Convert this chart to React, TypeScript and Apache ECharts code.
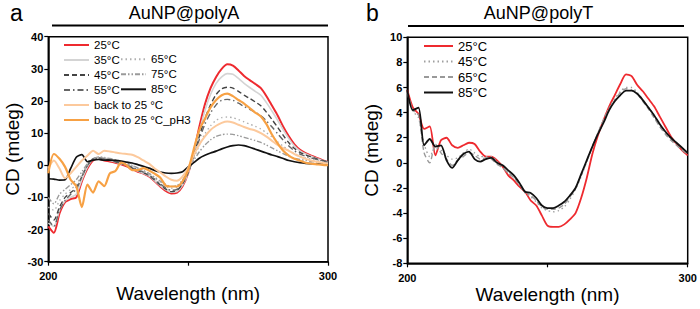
import React, { useEffect, useRef } from 'react';
import * as echarts from 'echarts';

const WAVELENGTH = [200, 202, 204, 206, 208, 210, 212, 214, 216, 218, 220, 222, 224, 226, 228, 230, 232, 234, 236, 238, 240, 242, 244, 246, 248, 250, 252, 254, 256, 258, 260, 262, 264, 266, 268, 270, 272, 274, 276, 278, 280, 282, 284, 286, 288, 290, 292, 294, 296, 298, 300];

// Panel a: AuNP@polyA
const A_25 = [-19, -21, -15, -11.5, -10.5, -10, -5, -1, 1.5, 2, 1.5, 1.2, 0.8, 0.3, -0.3, -1.2, -2, -2.6, -3.5, -5, -6.6, -8, -8.8, -8.5, -6.5, -2.5, 4, 12, 19, 24, 27.5, 30, 31.4, 31, 29.5, 27.8, 26.5, 25.3, 24, 21.5, 18.5, 15.5, 12, 9, 6.5, 4.8, 3.8, 3, 2.3, 1.6, 1.0];
const A_35 = [-18, -19, -14, -11, -10, -9, -4.5, -0.5, 1.8, 2.2, 1.8, 1.5, 1, 0.5, 0, -1, -1.8, -2.5, -3.3, -4.8, -6.3, -7.6, -8.4, -8.2, -6.2, -2.5, 3.5, 10.5, 17, 22, 25.5, 27.5, 28.5, 28.3, 27, 25.5, 24.2, 23, 21.8, 19.5, 16.8, 14, 11, 8.3, 6, 4.5, 3.5, 2.8, 2.1, 1.5, 1.0];
const A_45 = [-15, -17, -13, -10, -8.5, -7, -3.5, 0, 2, 2.3, 2, 1.6, 1.1, 0.6, 0, -0.8, -1.6, -2.3, -3.2, -4.6, -6.1, -7.4, -8.2, -7.8, -5.8, -2.3, 3, 9, 14.5, 18.8, 22, 23.8, 24.3, 24, 23, 21.8, 20.8, 19.7, 18.5, 16.5, 14.2, 11.8, 9.3, 7, 5.2, 4, 3.2, 2.6, 2, 1.5, 1.0];
const A_55 = [-17, -19, -14, -11, -9, -7.5, -3.5, 0, 1.8, 2.2, 2, 1.7, 1.2, 0.7, 0.1, -0.6, -1.4, -2.1, -3, -4.3, -5.8, -7, -7.8, -7.5, -5.5, -2, 2.8, 8, 12.8, 16.3, 18.8, 20.2, 20.5, 20.2, 19.3, 18.3, 17.4, 16.5, 15.4, 13.8, 11.9, 9.8, 7.8, 6, 4.5, 3.5, 2.8, 2.3, 1.8, 1.4, 1.0];
const A_65 = [-13, -14, -11, -9, -7.5, -6, -3, 0, 1.8, 2.5, 2.3, 2, 1.6, 1.1, 0.5, -0.2, -1, -1.8, -2.7, -4, -5.3, -6.5, -7.2, -6.9, -5, -1.8, 2.2, 6.2, 9.8, 12.3, 14, 14.8, 15, 14.8, 14.2, 13.5, 12.8, 12.1, 11.3, 10.1, 8.8, 7.3, 5.9, 4.6, 3.6, 2.8, 2.3, 1.9, 1.5, 1.2, 0.9];
const A_75 = [-10, -12, -9, -7.5, -6, -4.5, -2, 0.5, 2, 2.6, 2.4, 2.1, 1.7, 1.2, 0.7, 0, -0.8, -1.6, -2.5, -3.7, -4.9, -6, -6.6, -6.3, -4.6, -1.6, 1.5, 4.2, 6.3, 7.9, 9, 9.5, 9.7, 9.6, 9.2, 8.7, 8.2, 7.7, 7.1, 6.3, 5.4, 4.5, 3.6, 2.8, 2.2, 1.8, 1.5, 1.2, 1, 0.8, 0.6];
const A_85 = [-4.2, -4.3, -4.6, -4.5, -1, 2.5, 3.3, 1.1, 1.6, 1.8, 1.6, 1.6, 1.5, 1.3, 1, 0.7, 0.2, -0.3, -0.9, -1.6, -2.1, -2.4, -2.5, -2.4, -2, -0.5, 0.8, 2.2, 3.1, 3.8, 4.4, 5.1, 5.7, 6.1, 6.3, 6.1, 5.6, 5, 4.4, 3.8, 3.2, 2.7, 2.1, 1.5, 1.1, 0.8, 0.6, 0.5, 0.4, 0.4, 0.3];
const A_BACK = [-1, 1.5, -1, -4, -2.5, -0.5, 1.5, 3, 4.5, 3.5, 4.5, 4.3, 4, 3.7, 3.5, 3.3, 2.5, 1.5, 0.5, -1, -2.2, -3.5, -4.5, -4.8, -3.5, -0.8, 3.2, 6.5, 9, 11, 12.3, 13.2, 13.6, 13.3, 12.6, 11.9, 11.3, 10.8, 10, 8.9, 7.6, 6.3, 5.3, 4.5, 3.5, 2.7, 2, 1.5, 1.1, 0.8, 0.5];
const A_PH3 = [-2.5, 3.5, 2, -0.5, -4.5, -6.5, -13, -6, -8.5, -5, -6.5, -2.5, -1.8, 0.8, 0, -1.5, -1.5, -0.9, -1.6, -2.6, -3.8, -6.3, -6.6, -6.6, -5, -1.5, 5, 11, 14.5, 18, 20.3, 21.8, 22.3, 21.5, 20.3, 19.2, 17.8, 16.4, 15.2, 12.8, 9.5, 6.8, 4.5, 3, 2, 1.4, 0.8, 0.5, 0.3, 0.1, 0];

// Panel b: AuNP@polyT
const B_25 = [5.8, 4.4, 3.9, 2.7, 2.9, 0.6, 1.8, 2.0, 1.4, 1.2, 1.4, 1.6, 1.5, 0.9, 0.5, 0.5, 0.2, -0.3, -1.0, -1.4, -1.9, -2.3, -3.0, -3.4, -4.2, -5.0, -5.1, -5.1, -4.9, -4.5, -4.0, -2.8, -1.2, 0.7, 2.2, 3.4, 4.5, 5.4, 6.3, 7.05, 6.9, 6.2, 5.7, 5.1, 4.5, 3.7, 2.9, 2.1, 1.5, 1.0, 0.6];
const B_45 = [5.6, 4.1, 3.6, 1.5, 0.5, 1.2, 1.0, 0.6, 0.3, 0.4, 0.8, 1.1, 0.8, 0.5, 0.5, 0.5, 0.1, -0.3, -0.8, -1.2, -1.8, -2.4, -2.7, -3.1, -3.6, -3.8, -3.9, -3.8, -3.5, -2.9, -2.1, -1.1, 0.1, 1.3, 2.4, 3.5, 4.4, 5.1, 5.7, 6.0, 6.0, 5.6, 5.0, 4.4, 3.7, 3.0, 2.4, 1.9, 1.5, 1.1, 0.7];
const B_65 = [5.6, 4.2, 3.8, 0.8, 0.0, 1.5, 0.8, 0.3, -0.2, 0.2, 0.5, 0.8, 0.6, 0.3, 0.4, 0.3, -0.1, -0.4, -0.8, -1.2, -1.7, -2.3, -2.6, -3.0, -3.5, -3.7, -3.7, -3.6, -3.3, -2.7, -2.0, -1.0, 0.1, 1.3, 2.4, 3.4, 4.3, 5.0, 5.6, 5.9, 5.8, 5.5, 4.9, 4.3, 3.6, 2.9, 2.3, 1.8, 1.4, 1.0, 0.7];
const B_85 = [5.8, 4.2, 4.4, 1.4, 1.9, 1.3, 1.4, 0.2, -0.4, 0.2, 0.7, 0.9, 0.3, 0.1, 0.3, 0.4, 0, -0.2, -0.6, -1.0, -1.6, -2.3, -2.4, -2.8, -3.4, -3.6, -3.6, -3.4, -3.1, -2.6, -2.0, -0.9, 0.2, 1.3, 2.3, 3.2, 4.2, 4.9, 5.4, 5.75, 5.75, 5.5, 5.0, 4.4, 3.8, 3.1, 2.5, 2.0, 1.6, 1.2, 0.8];

const FONT = 'Arial, "Liberation Sans", Helvetica, sans-serif';

type SeriesDef = { name: string; values: number[]; color: string; width: number; dash: any };

const A_SERIES: SeriesDef[] = [
  { name: '25°C', values: A_25, color: '#ee2a2f', width: 2, dash: 'solid' },
  { name: '35°C', values: A_35, color: '#d4d4d4', width: 1.6, dash: 'solid' },
  { name: '45°C', values: A_45, color: '#444444', width: 1.4, dash: [5, 3] },
  { name: '55°C', values: A_55, color: '#666666', width: 1.4, dash: [6, 3, 1.5, 3] },
  { name: '65°C', values: A_65, color: '#b0b0b0', width: 1.4, dash: [1.5, 3] },
  { name: '75°C', values: A_75, color: '#9a9a9a', width: 1.4, dash: [5, 2, 1.5, 2, 1.5, 2] },
  { name: '85°C', values: A_85, color: '#111111', width: 1.7, dash: 'solid' },
  { name: 'back to 25 °C', values: A_BACK, color: '#fcc99c', width: 2, dash: 'solid' },
  { name: 'back to 25 °C_pH3', values: A_PH3, color: '#f7a144', width: 2.2, dash: 'solid' },
];

const B_SERIES: SeriesDef[] = [
  { name: '25°C', values: B_25, color: '#ee2a2f', width: 1.8, dash: 'solid' },
  { name: '45°C', values: B_45, color: '#a0a0a0', width: 1.4, dash: [1.5, 3] },
  { name: '65°C', values: B_65, color: '#999999', width: 1.4, dash: [5, 3] },
  { name: '85°C', values: B_85, color: '#111111', width: 1.8, dash: 'solid' },
];

function buildSeries(defs: SeriesDef[]) {
  return defs.map((d) => ({
    name: d.name,
    type: 'line',
    symbol: 'none',
    showSymbol: false,
    smooth: 0.25,
    data: WAVELENGTH.map((w, i) => [w, d.values[i]]),
    lineStyle: { color: d.color, width: d.width, type: d.dash },
    itemStyle: { color: d.color },
    z: 2,
  }));
}

function axisCommon() {
  return {
    axisLine: { show: true, onZero: false, lineStyle: { color: '#000', width: 1.5 } },
    axisTick: { show: true, inside: false, length: 4, lineStyle: { color: '#000', width: 1.2 } },
    splitLine: { show: false },
  };
}

function buildOption(p: {
  letter: string; title: string; series: SeriesDef[]; yMin: number; yMax: number; yInterval: number;
  grid: { left: number; top: number; width: number; height: number };
  legends: any[]; titleX: number; lineX0: number; lineX1: number; lineY: number; letterX: number;
}) {
  return {
    animation: false,
    backgroundColor: '#fff',
    grid: {
      ...p.grid, show: true, borderColor: '#000', borderWidth: 1.5, backgroundColor: 'transparent',
      containLabel: false, outerBoundsMode: 'none',
    },
    xAxis: {
      type: 'value', min: 200, max: 300, interval: 50,
      ...axisCommon(),
      axisLabel: {
        color: '#000', fontFamily: FONT, fontSize: 11, fontWeight: 'bold', margin: 9,
        formatter: (v: number) => (v === 250 ? '' : String(v)),
      },
      name: 'Wavelength (nm)', nameLocation: 'middle', nameGap: 22, nameMoveOverlap: false,
      nameTextStyle: { color: '#000', fontFamily: FONT, fontSize: 19 },
    },
    yAxis: {
      type: 'value', min: p.yMin, max: p.yMax, interval: p.yInterval,
      ...axisCommon(),
      axisLabel: { color: '#000', fontFamily: FONT, fontSize: 11, fontWeight: 'bold', margin: 5 },
      name: 'CD (mdeg)', nameLocation: 'middle', nameGap: 26, nameRotate: 90, nameMoveOverlap: false,
      nameTextStyle: { color: '#000', fontFamily: FONT, fontSize: 19 },
    },
    legend: p.legends,
    series: buildSeries(p.series),
    graphic: [
      { type: 'text', left: p.letterX, top: 1, style: { text: p.letter, fontFamily: FONT, fontSize: 23, fill: '#000' } },
      { type: 'text', x: p.titleX, y: 13, style: { text: p.title, fontFamily: FONT, fontSize: 18, fill: '#000', align: 'center', verticalAlign: 'middle' } },
      { type: 'line', shape: { x1: p.lineX0, y1: p.lineY, x2: p.lineX1, y2: p.lineY }, style: { stroke: '#000', lineWidth: 2 } },
    ],
  };
}

function legendDef(names: string[], left: number, top: number, fontSize: number, gap: number, itemWidth: number) {
  return {
    data: names, left, top, orient: 'vertical', padding: 0, itemGap: gap,
    itemWidth, itemHeight: 8, selectedMode: false,
    itemStyle: { opacity: 0, borderWidth: 0 },
    textStyle: { color: '#000', fontFamily: FONT, fontSize },
  };
}

const optionA = buildOption({
  letter: 'a', title: 'AuNP@polyA', series: A_SERIES, yMin: -30, yMax: 40, yInterval: 10,
  grid: { left: 48.3, top: 36.7, width: 279.7, height: 225 },
  legends: [
    legendDef(['25°C', '35°C', '45°C', '55°C', 'back to 25 °C', 'back to 25 °C_pH3'], 63, 39, 11.5, 3, 25),
    legendDef(['65°C', '75°C', '85°C'], 120, 53.3, 11.5, 3, 25),
  ],
  titleX: 184, lineX0: 52, lineX1: 328, lineY: 25.5, letterX: 10,
});

const optionB = buildOption({
  letter: 'b', title: 'AuNP@polyT', series: B_SERIES, yMin: -8, yMax: 10, yInterval: 2,
  grid: { left: 57.3, top: 37.3, width: 280.4, height: 226 },
  legends: [legendDef(['25°C', '45°C', '65°C', '85°C'], 73, 39.5, 13, 2.5, 29)],
  titleX: 188.5, lineX0: 58, lineX1: 334, lineY: 26, letterX: 16,
});

function Chart({ option }: { option: any }) {
  const ref = useRef<HTMLDivElement>(null);
  useEffect(() => {
    if (!ref.current) return;
    const chart = echarts.init(ref.current, undefined, { renderer: 'svg' });
    chart.setOption(option);
    return () => chart.dispose();
  }, [option]);
  return <div ref={ref} style={{ width: 350, height: 309 }} />;
}

export default function App() {
  return (
    <div style={{ position: 'absolute', left: 0, top: 0, width: 700, height: 309, display: 'flex', background: '#fff' }}>
      <Chart option={optionA} />
      <Chart option={optionB} />
    </div>
  );
}
